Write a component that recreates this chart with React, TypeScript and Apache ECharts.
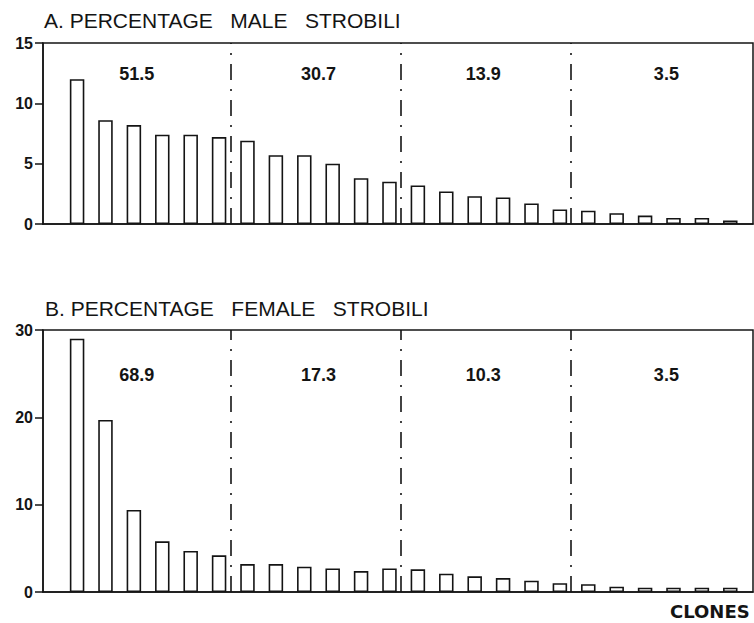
import React, { useEffect, useRef } from "react";
import * as echarts from "echarts";

// Clone rank index (x position of each bar)
const clones = Array.from({ length: 24 }, (_, i) => i + 1);
// Percentage of male strobili per clone (panel A)
const maleValues = [12.0, 8.6, 8.2, 7.4, 7.4, 7.2, 6.9, 5.7, 5.7, 5.0, 3.8, 3.5, 3.2, 2.7, 2.3, 2.2, 1.7, 1.2, 1.1, 0.9, 0.7, 0.5, 0.5, 0.3];
// Percentage of female strobili per clone (panel B)
const femaleValues = [29.0, 19.7, 9.4, 5.8, 4.7, 4.2, 3.2, 3.2, 2.9, 2.7, 2.4, 2.7, 2.6, 2.1, 1.8, 1.6, 1.3, 1.0, 0.9, 0.6, 0.5, 0.5, 0.5, 0.5];
// Group totals (quartiles of clones)
const maleGroupTotals = ["51.5", "30.7", "13.9", "3.5"];
const femaleGroupTotals = ["68.9", "17.3", "10.3", "3.5"];
const clonesPerGroup = 6;
// Axis ranges
const maleMax = 15;
const maleInterval = 5;
const femaleMax = 30;
const femaleInterval = 10;

const INK = "#141414";
const FONT = "Liberation Sans";

export default function App() {
  const ref = useRef<HTMLDivElement>(null);
  useEffect(() => {
    if (!ref.current) return;
    const chart = echarts.init(ref.current, undefined, { renderer: "svg" });

    const labelOffsets = [-0.4, 0, -0.2, 0.25];
    const groupCenters = maleGroupTotals.map((_, g) => g * clonesPerGroup + (clonesPerGroup + 1) / 2);
    const dividers = [1, 2, 3].map((k) => ({ xAxis: k * clonesPerGroup + 0.4 }));

    const grids = [
      { left: 43, top: 43, width: 710, height: 181 },
      { left: 43, top: 330, width: 710, height: 262 },
    ].map((g) => ({ ...g, show: true, borderColor: INK, borderWidth: 1.5, backgroundColor: "transparent" }));

    const xAxis = [0, 1].map((i) => ({
      type: "value",
      gridIndex: i,
      min: -0.2,
      max: 24.8,
      axisLine: { show: true, onZero: false, lineStyle: { color: INK, width: 1.5 } },
      axisTick: { show: false },
      axisLabel: { show: false },
      splitLine: { show: false },
    }));

    const yAxisBase = {
      type: "value",
      min: 0,
      axisLine: { show: true, onZero: false, lineStyle: { color: INK, width: 1.5 } },
      axisTick: { show: true, length: 8, lineStyle: { color: INK, width: 1.5 } },
      axisLabel: {
        color: INK,
        fontFamily: FONT,
        fontWeight: "bold",
        fontSize: 16,
        margin: 10,
        padding: [0, 0, 6, 0],
        verticalAlign: "middle",
      },
      splitLine: { show: false },
    };
    const yAxis = [
      { ...yAxisBase, gridIndex: 0, max: maleMax, interval: maleInterval },
      { ...yAxisBase, gridIndex: 1, max: femaleMax, interval: femaleInterval },
    ];

    const barSeries = (values: number[], idx: number) => ({
      type: "bar",
      xAxisIndex: idx,
      yAxisIndex: idx,
      barWidth: 14.5,
      data: values.map((v, i) => [clones[i], v]),
      itemStyle: { color: "#ffffff", borderColor: INK, borderWidth: 1.6 },
      silent: true,
      markLine: {
        silent: true,
        symbol: ["none", "none"],
        label: { show: false },
        lineStyle: { color: INK, width: 1.6, type: [16, 9, 2, 9] },
        data: dividers,
      },
    });

    const labelSeries = (totals: string[], idx: number, y: number) => ({
      type: "scatter",
      xAxisIndex: idx,
      yAxisIndex: idx,
      symbolSize: 1,
      silent: true,
      itemStyle: { color: "rgba(0,0,0,0)" },
      data: totals.map((t, g) => [groupCenters[g] + labelOffsets[g], y, t]),
      label: {
        show: true,
        position: "inside",
        formatter: (p: any) => p.value[2],
        color: INK,
        opacity: 1,
        fontFamily: FONT,
        fontWeight: "bold",
        fontSize: 18,
      },
    });

    chart.setOption({
      animation: false,
      backgroundColor: "#ffffff",
      grid: grids,
      xAxis,
      yAxis,
      series: [
        barSeries(maleValues, 0),
        barSeries(femaleValues, 1),
        labelSeries(maleGroupTotals, 0, 12.4),
        labelSeries(femaleGroupTotals, 1, 24.8),
      ],
      graphic: [
        {
          type: "text",
          x: 44,
          y: 20.5,
          style: {
            text: "A. PERCENTAGE   MALE   STROBILI",
            fill: INK,
            font: `21px "${FONT}"`,
            verticalAlign: "middle",
          },
        },
        {
          type: "text",
          x: 45,
          y: 308.5,
          style: {
            text: "B. PERCENTAGE   FEMALE   STROBILI",
            fill: INK,
            font: `21px "${FONT}"`,
            verticalAlign: "middle",
          },
        },
        {
          type: "text",
          x: 670,
          y: 611.5,
          style: {
            text: "CLONES",
            fill: INK,
            font: `bold 18px "DejaVu Sans"`,
            verticalAlign: "middle",
          },
        },
      ],
    });
    return () => chart.dispose();
  }, []);

  return (
    <div
      ref={ref}
      style={{ position: "fixed", left: 0, top: 0, width: 754, height: 623, background: "#fff" }}
    />
  );
}
